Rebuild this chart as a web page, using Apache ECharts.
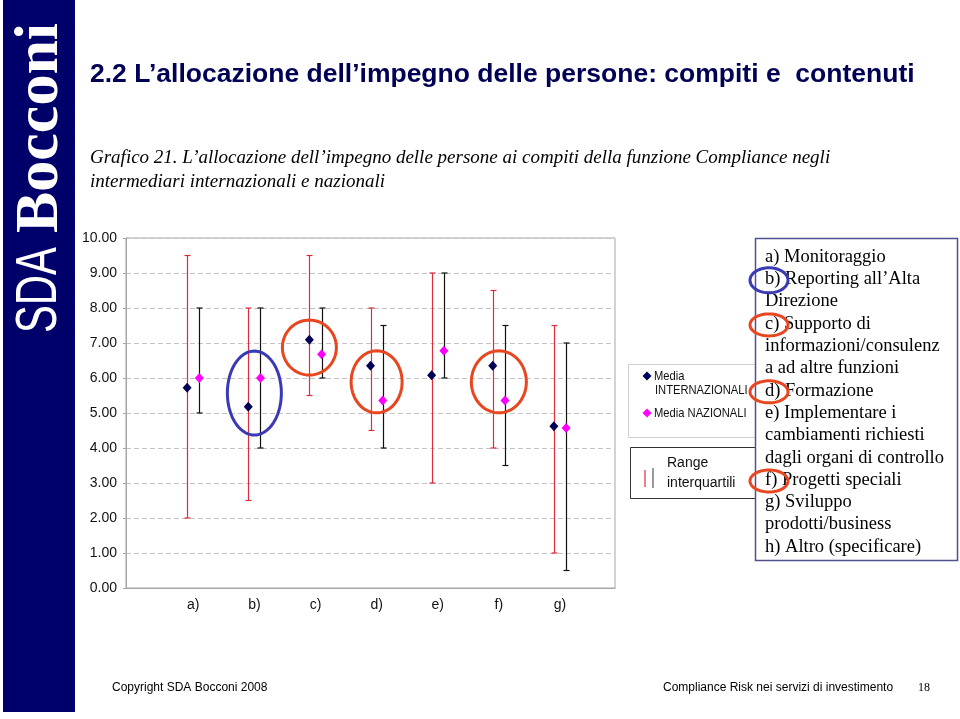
<!DOCTYPE html>
<html>
<head>
<meta charset="utf-8">
<script src="https://cdn.jsdelivr.net/npm/echarts@6/dist/echarts.min.js"></script>
<style>
html,body{margin:0;padding:0;background:#fff;}
#chart{width:960px;height:719px;}
</style>
</head>
<body>
<div id="chart"></div>
<script>
// ---- data ----
const categories = ['a)', 'b)', 'c)', 'd)', 'e)', 'f)', 'g)'];
const intMean = [5.72, 5.18, 7.09, 6.35, 6.08, 6.35, 4.62];
const intLow  = [2.0, 2.5, 5.5, 4.5, 3.0, 4.0, 1.0];
const intHigh = [9.5, 8.0, 9.5, 8.0, 9.0, 8.5, 7.5];
const natMean = [6.0, 6.0, 6.68, 5.36, 6.78, 5.36, 4.57];
const natLow  = [5.0, 4.0, 6.0, 4.0, 6.0, 3.5, 0.5];
const natHigh = [8.0, 8.0, 8.0, 7.5, 9.0, 7.5, 7.0];
const yTicks = [0, 1, 2, 3, 4, 5, 6, 7, 8, 9, 10];
// highlighted tasks (category, centre value on the axis)
const highlightCats = ['b)', 'c)', 'd)', 'f)'];
const highlightShift = [0.0, -0.1, 0.0, 0.0];
const highlightValue = [5.57, 6.87, 5.89, 5.89];
const taskLines = [
  'a) Monitoraggio',
  'b) Reporting all\u2019Alta',
  'Direzione',
  'c) Supporto di',
  'informazioni/consulenz',
  'a ad altre funzioni',
  'd) Formazione',
  'e) Implementare i',
  'cambiamenti richiesti',
  'dagli organi di controllo',
  'f) Progetti speciali',
  'g) Sviluppo',
  'prodotti/business',
  'h) Altro (specificare)'
];

// ---- styles ----
const NAVY = '#000055';
const PINK = '#ff00ff';
const RED_BAR = '#dd2d3c';
const BLACK_BAR = '#111111';
const ORANGE = '#e8461e';
const BLUE = '#3a3ab4';
const hlStyle = [
  {rx: 27, ry: 42, color: BLUE},
  {rx: 27, ry: 27.5, color: ORANGE},
  {rx: 25.5, ry: 31, color: ORANGE},
  {rx: 27.5, ry: 31, color: ORANGE}
];

const OFF = 0.1;
const intPts = intMean.map((v, i) => [i + 1 - OFF, v]);
const natPts = natMean.map((v, i) => [i + 1 + OFF, v]);
const intBars = intLow.map((l, i) => [i + 1 - OFF, l, intHigh[i]]);
const natBars = natLow.map((l, i) => [i + 1 + OFF, l, natHigh[i]]);
const hlData = highlightCats.map((c, k) => [categories.indexOf(c) + 1 + highlightShift[k], highlightValue[k], k]);

function ellipsePts(cx, cy, rx, ry) {
  const pts = [];
  for (let i = 0; i < 72; i++) {
    const a = i / 72 * Math.PI * 2;
    pts.push([cx + rx * Math.cos(a), cy + ry * Math.sin(a)]);
  }
  return pts;
}

function barRenderer(color) {
  return function (params, api) {
    const x = api.value(0);
    const p1 = api.coord([x, api.value(2)]);
    const p2 = api.coord([x, api.value(1)]);
    const cx = Math.round(p1[0]) + 0.5;
    const w = 3;
    const st = {stroke: color, lineWidth: 1.2};
    return {
      type: 'group',
      children: [
        {type: 'line', shape: {x1: cx, y1: p1[1], x2: cx, y2: p2[1]}, style: st},
        {type: 'line', shape: {x1: cx - w, y1: p1[1], x2: cx + w, y2: p1[1]}, style: st},
        {type: 'line', shape: {x1: cx - w, y1: p2[1], x2: cx + w, y2: p2[1]}, style: st}
      ]
    };
  };
}

function diamond(cx, cy, r, color) {
  return {type: 'polygon', shape: {points: [[cx, cy - r], [cx + r, cy], [cx, cy + r], [cx - r, cy]]}, style: {fill: color}};
}

const serif = '"Liberation Serif", "Times New Roman", serif';
const sans = '"Liberation Sans", Arial, sans-serif';

const graphics = [
  // sidebar
  {type: 'rect', shape: {x: 3, y: 0, width: 72, height: 712}, style: {fill: '#00006a'}, z: 1},
  {type: 'text', x: 40, y: 333, rotation: Math.PI / 2, scaleX: 0.72, z: 2,
    style: {text: 'SDA', fill: '#fff', font: '58px ' + sans, align: 'left', verticalAlign: 'middle'}},
  {type: 'text', x: 41, y: 233, rotation: Math.PI / 2, z: 2,
    style: {text: 'Bocconi', fill: '#fff', font: 'bold 62px ' + serif, align: 'left', verticalAlign: 'middle'}},
  // title
  {type: 'text', x: 90, y: 75, z: 2,
    style: {text: '2.2 L\u2019allocazione dell\u2019impegno delle persone: compiti e  contenuti', fill: NAVY, font: 'bold 26.5px ' + sans, verticalAlign: 'middle'}},
  // subtitle
  {type: 'text', x: 90, y: 158, z: 2,
    style: {text: 'Grafico 21. L\u2019allocazione dell\u2019impegno delle persone ai compiti della funzione Compliance negli', fill: '#000', font: 'italic 19px ' + serif, verticalAlign: 'middle'}},
  {type: 'text', x: 90, y: 182, z: 2,
    style: {text: 'intermediari internazionali e nazionali', fill: '#000', font: 'italic 19px ' + serif, verticalAlign: 'middle'}},
  // footer
  {type: 'text', x: 112, y: 688, z: 2,
    style: {text: 'Copyright SDA Bocconi 2008', fill: '#000', font: '12px ' + sans, verticalAlign: 'middle'}},
  {type: 'text', x: 663, y: 688, z: 2,
    style: {text: 'Compliance Risk nei servizi di investimento', fill: '#000', font: '12px ' + sans, verticalAlign: 'middle'}},
  {type: 'text', x: 918, y: 688, z: 2,
    style: {text: '18', fill: '#000', font: '12px ' + serif, verticalAlign: 'middle'}},
  // legend box 1 (means)
  {type: 'rect', shape: {x: 628.5, y: 364.5, width: 150, height: 73}, style: {fill: '#fff', stroke: '#cfcfcf', lineWidth: 1}, z: 3},
  Object.assign(diamond(647, 376, 4.5, NAVY), {z: 4}),
  {type: 'text', x: 654, y: 376, scaleX: 0.86, z: 4, style: {text: 'Media', fill: '#111', font: '13px ' + sans, verticalAlign: 'middle'}},
  {type: 'text', x: 655, y: 390, scaleX: 0.86, z: 4, style: {text: 'INTERNAZIONALI', fill: '#111', font: '13px ' + sans, verticalAlign: 'middle'}},
  Object.assign(diamond(647, 413, 4.5, PINK), {z: 4}),
  {type: 'text', x: 654, y: 413, scaleX: 0.86, z: 4, style: {text: 'Media NAZIONALI', fill: '#111', font: '13px ' + sans, verticalAlign: 'middle'}},
  // legend box 2 (ranges)
  {type: 'rect', shape: {x: 630.5, y: 447.5, width: 150, height: 51}, style: {fill: '#fff', stroke: '#333', lineWidth: 1}, z: 3},
  {type: 'line', shape: {x1: 645, y1: 470, x2: 645, y2: 487}, style: {stroke: RED_BAR, lineWidth: 1.2}, z: 4},
  {type: 'line', shape: {x1: 653, y1: 468, x2: 653, y2: 488}, style: {stroke: '#555', lineWidth: 1.2}, z: 4},
  {type: 'text', x: 667, y: 463, z: 4, style: {text: 'Range', fill: '#111', font: '14px ' + sans, verticalAlign: 'middle'}},
  {type: 'text', x: 667, y: 483, z: 4, style: {text: 'interquartili', fill: '#111', font: '14px ' + sans, verticalAlign: 'middle'}},
  // task text box
  {type: 'rect', shape: {x: 755.5, y: 238.5, width: 202, height: 322}, style: {fill: '#fff', stroke: '#505090', lineWidth: 1.5}, z: 5}
];
taskLines.forEach((t, k) => {
  graphics.push({type: 'text', x: 765, y: 257 + k * 22.3, z: 6,
    style: {text: t, fill: '#000', font: '18.5px ' + serif, verticalAlign: 'middle'}});
});
// highlight rings in the text box (around the letters b, c, d, f)
const boxRings = [
  {line: 1, color: BLUE}, {line: 3, color: ORANGE}, {line: 6, color: ORANGE}, {line: 10, color: ORANGE}
];
boxRings.forEach(r => {
  graphics.push({type: 'polygon', z: 7,
    shape: {points: ellipsePts(769, 257 + r.line * 22.3 + 1, 19, r.line === 1 ? 12.5 : 11)},
    style: {fill: 'none', stroke: r.color, lineWidth: 3}});
});

const chart = echarts.init(document.getElementById('chart'), null, {renderer: 'canvas'});
chart.setOption({
  backgroundColor: '#fff',
  animation: false,
  grid: {left: 126, top: 238, right: 345, bottom: 131, show: true, borderColor: '#a6a6a6', borderWidth: 1, backgroundColor: '#fff'},
  xAxis: {
    type: 'value', min: -0.1, max: 7.9,
    axisLine: {show: true, onZero: false, lineStyle: {color: '#a6a6a6'}},
    axisTick: {show: false},
    splitLine: {show: false},
    axisLabel: {
      customValues: categories.map((c, i) => i + 1),
      formatter: v => categories[Math.round(v) - 1] || '',
      color: '#111', fontSize: 14, fontFamily: sans, margin: 10
    }
  },
  yAxis: {
    type: 'value', min: 0, max: 10, interval: 1,
    axisLine: {show: true, onZero: false, lineStyle: {color: '#a6a6a6'}},
    axisTick: {show: true, length: 3, lineStyle: {color: '#a6a6a6'}},
    splitLine: {show: true, lineStyle: {color: '#c4c4c4', type: [5, 3]}},
    axisLabel: {
      customValues: yTicks,
      formatter: v => v.toFixed(2), color: '#111', fontSize: 14, fontFamily: sans, margin: 9
    }
  },
  graphic: graphics,
  series: [
    {type: 'custom', name: 'Range INTERNAZIONALI', renderItem: barRenderer(RED_BAR), data: intBars, encode: {x: 0, y: [1, 2]}, z: 2},
    {type: 'custom', name: 'Range NAZIONALI', renderItem: barRenderer(BLACK_BAR), data: natBars, encode: {x: 0, y: [1, 2]}, z: 2},
    {type: 'scatter', name: 'Media INTERNAZIONALI', data: intPts, symbol: 'diamond', symbolSize: [9, 10], itemStyle: {color: NAVY, opacity: 1}, z: 4},
    {type: 'scatter', name: 'Media NAZIONALI', data: natPts, symbol: 'diamond', symbolSize: [9, 10], itemStyle: {color: PINK, opacity: 1}, z: 4},
    {type: 'custom', name: 'Evidenza', data: hlData, encode: {x: 0, y: 1}, z: 6,
      renderItem: function (params, api) {
        const c = api.coord([api.value(0), api.value(1)]);
        const s = hlStyle[api.value(2)];
        return {type: 'polygon', shape: {points: ellipsePts(c[0], c[1], s.rx, s.ry)},
          style: {fill: 'none', stroke: s.color, lineWidth: 3}};
      }}
  ]
});
</script>
</body>
</html>
